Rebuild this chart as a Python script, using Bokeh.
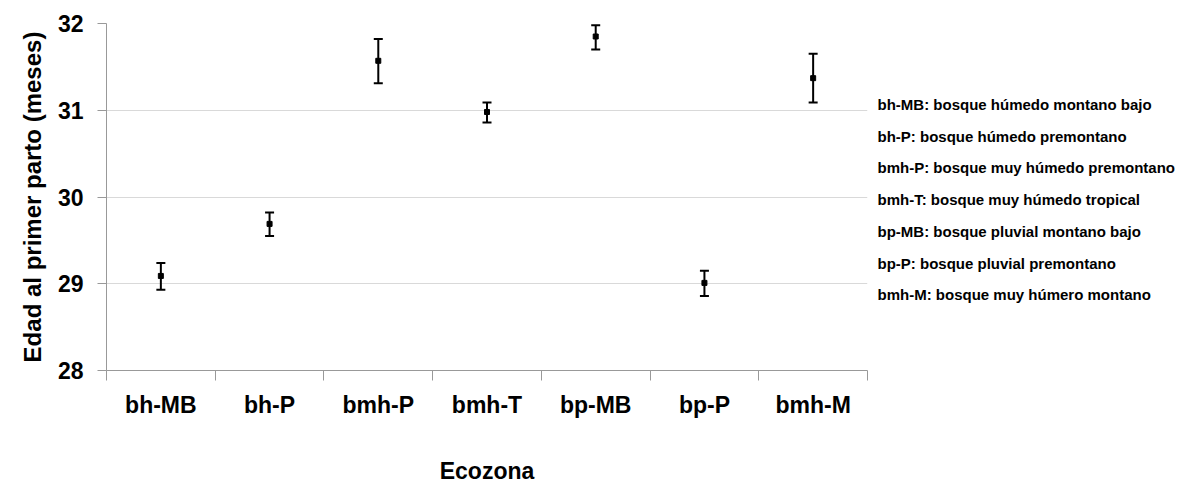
from bokeh.plotting import figure
from bokeh.layouts import row
from bokeh.models import ColumnDataSource, Whisker, TeeHead, FixedTicker, Range1d
from bokeh.core.properties import value
from bokeh.embed import file_html
from bokeh.resources import INLINE

categories = ["bh-MB", "bh-P", "bmh-P", "bmh-T", "bp-MB", "bp-P", "bmh-M"]
means = [29.09, 29.69, 31.57, 30.98, 31.85, 29.01, 31.37]
upper = [29.24, 29.82, 31.82, 31.09, 31.98, 29.15, 31.65]
lower = [28.93, 29.55, 31.31, 30.86, 31.70, 28.86, 31.09]
y_ticks = [28, 29, 30, 31, 32]
legend_lines = [
    "bh-MB: bosque húmedo montano bajo",
    "bh-P: bosque húmedo premontano",
    "bmh-P: bosque muy húmedo premontano",
    "bmh-T: bosque muy húmedo tropical",
    "bp-MB: bosque pluvial montano bajo",
    "bp-P: bosque pluvial premontano",
    "bmh-M: bosque muy húmero montano",
]

FONT = "Liberation Sans"
H = 486
TOP = 23
BOTTOM_BORDER = 116

xs = [i + 0.5 for i in range(len(categories))]
src = ColumnDataSource(dict(x=xs, mean=means, upper=upper, lower=lower))

p = figure(width=870, height=H, output_backend="svg", toolbar_location=None,
           x_range=Range1d(0, len(categories)), y_range=Range1d(28, 32),
           min_border_left=106, min_border_right=3, min_border_top=TOP,
           min_border_bottom=BOTTOM_BORDER)
p.outline_line_color = None
p.background_fill_color = "white"

w = Whisker(source=src, base="x", upper="upper", lower="lower", dimension="height",
            line_color="black", line_width=2,
            upper_head=TeeHead(size=9, line_color="black", line_width=2),
            lower_head=TeeHead(size=9, line_color="black", line_width=2))
p.add_layout(w)
p.scatter("x", "mean", source=src, marker="square", size=5, color="black")

# x axis
p.xaxis.ticker = FixedTicker(ticks=xs, minor_ticks=list(range(len(categories) + 1)))
p.xaxis.major_label_overrides = {x: c for x, c in zip(xs, categories)}
p.xaxis.major_tick_line_color = None
p.xaxis.major_tick_out = 0
p.xaxis.major_tick_in = 0
p.xaxis.minor_tick_out = 10
p.xaxis.minor_tick_in = 0
p.xaxis.minor_tick_line_color = "#999999"
p.xaxis.axis_line_color = "#999999"
p.xaxis.major_label_standoff = 11
p.xaxis.major_label_text_font = FONT
p.xaxis.major_label_text_font_style = "bold"
p.xaxis.major_label_text_font_size = "23px"
p.xaxis.major_label_text_color = "black"
p.xaxis.axis_label = "Ecozona"
p.xaxis.axis_label_text_font = FONT
p.xaxis.axis_label_text_font_style = "bold"
p.xaxis.axis_label_text_font_size = "23px"
p.xaxis.axis_label_text_color = "black"
p.xaxis.axis_label_standoff = 37

# y axis
p.yaxis.ticker = FixedTicker(ticks=y_ticks, minor_ticks=[])
p.yaxis.major_tick_out = 9
p.yaxis.major_tick_in = 0
p.yaxis.major_tick_line_color = "#999999"
p.yaxis.axis_line_color = "#999999"
p.yaxis.major_label_standoff = 14
p.yaxis.major_label_text_font = FONT
p.yaxis.major_label_text_font_style = "bold"
p.yaxis.major_label_text_font_size = "23px"
p.yaxis.major_label_text_color = "black"
p.yaxis.axis_label = "Edad al primer parto (meses)"
p.yaxis.axis_label_text_font = FONT
p.yaxis.axis_label_text_font_style = "bold"
p.yaxis.axis_label_text_font_size = "24px"
p.yaxis.axis_label_text_color = "black"
p.yaxis.axis_label_standoff = 9

p.xgrid.grid_line_color = None
p.ygrid.grid_line_color = "#d9d9d9"
p.ygrid.grid_line_width = 1.2

# legend-like text block on the right, in a companion figure whose frame is
# aligned with the main frame; its y range runs in page pixels (top-down)
LW = 315
frame_bottom = H - BOTTOM_BORDER
q = figure(width=LW, height=H, output_backend="svg", toolbar_location=None,
           x_range=Range1d(0, LW), y_range=Range1d(frame_bottom, TOP),
           min_border_left=0, min_border_right=0, min_border_top=TOP,
           min_border_bottom=BOTTOM_BORDER)
q.axis.visible = False
q.grid.visible = False
q.outline_line_color = None
ly = [104 + i * 31.7 for i in range(len(legend_lines))]
q.text(x=[7] * len(legend_lines), y=ly, text=legend_lines,
       text_font=value(FONT), text_font_style="bold", text_font_size="15px",
       text_color="black", text_baseline="middle", text_align="left")

layout = row(p, q, spacing=0)
open("out.html", "w").write(file_html(layout, INLINE))
